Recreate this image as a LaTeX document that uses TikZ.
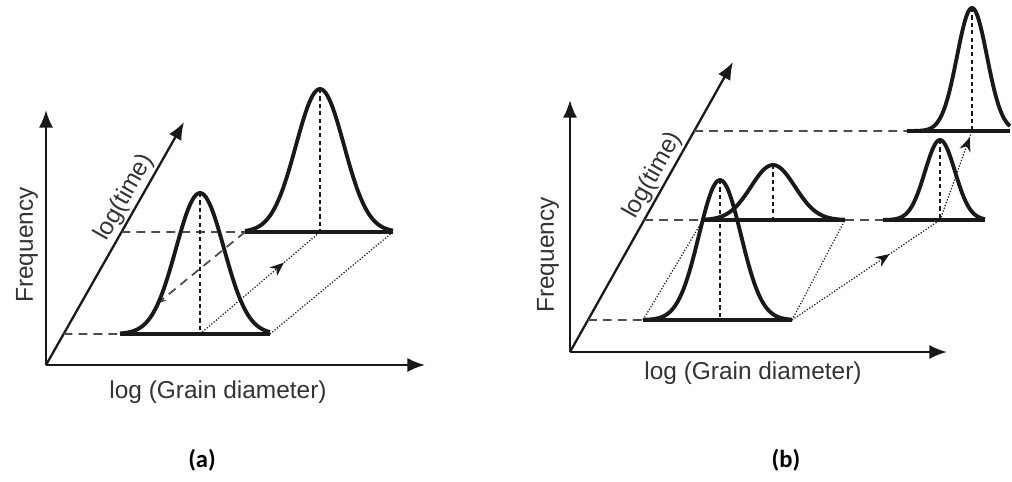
\documentclass[tikz,border=0pt]{standalone}
\usepackage{fontspec}
\setmainfont{Liberation Sans}
\newfontfamily\capfont{Carlito}
\usetikzlibrary{arrows.meta, positioning, calc, decorations.markings}
\definecolor{InkBlack}{rgb}{0.1, 0.1, 0.1}
\definecolor{GuideGray}{rgb}{0.3, 0.3, 0.3}
\definecolor{LabelGray}{rgb}{0.2, 0.2, 0.2}

\begin{document}
\begin{tikzpicture}[
    x=0.02cm, y=-0.02cm,
    font=\fontsize{13.9}{16}\selectfont,
    axis/.style={line width=1.3pt, InkBlack, -{Latex[length=10pt, width=8pt]}},
    bell/.style={line width=2.2pt, InkBlack, smooth, samples=90},
    base/.style={line width=2.4pt, InkBlack},
    guide/.style={GuideGray, line width=1pt, dash pattern=on 5pt off 3.5pt},
    peakline/.style={InkBlack, line width=1.6pt, dash pattern=on 2.4pt off 1.8pt},
    trace/.style={InkBlack, line width=0.7pt, densely dotted},
    midarrow/.style={postaction={decorate}, decoration={markings,
        mark=at position #1 with {\arrow{Stealth[length=8pt, width=6.5pt]}}}},
    axlabel/.style={text=LabelGray},
    panel/.style={font=\capfont\bfseries\fontsize{14}{16}\selectfont},
]
\useasboundingbox (0,0) rectangle (1012,481);

% ---- ejes ----
\coordinate (Oa) at (46,365);
\coordinate (fa) at (46,110);
\coordinate (ga) at (425,365);
\coordinate (ta) at (184,122);
\coordinate (Ob) at (570,352);
\coordinate (fb) at (570,100);
\coordinate (gb) at (947,352);
\coordinate (tb) at (733,62);

\foreach \p in {a,b}{
    \draw[axis] (O\p) -- (f\p);
    \draw[axis] (O\p) -- (g\p);
}
\draw[axis] (Oa) -- node[sloped, above, pos=0.66, inner sep=1pt, axlabel] (timea) {log(time)} (ta);
\draw[axis] (Ob) -- node[sloped, above, pos=0.585, inner sep=1pt, axlabel] (timeb) {log(time)} (tb);

% ---- distribuciones ----
\foreach \nm/\c/\b/\h/\s/\l/\r in {%
    a1/200/334/141/24/120/270,
    a2/320/232/143/24/245/393,
    b1/720/320/140/21/643/792,
    b2/773/220/55/22/703/845,
    b3/940/220/80/15/883/985,
    b4/972/131/123/15/907/1010}{
    \coordinate (\nm L) at (\l,\b);
    \coordinate (\nm C) at (\c,\b);
    \coordinate (\nm R) at (\r,\b);
    \coordinate (\nm P) at (\c,\b-\h);
}

% ---- guias ----
\draw[guide] (intersection of Oa--ta and a1L--a1R) -- (a1L);
\draw[guide] (intersection of Oa--ta and a2L--a2R) -- (a2L);
\draw[guide, -{Stealth[length=5pt, width=4pt]}] (a2L) -- ($(a2L)!0.7!(a1L)$);
\draw[guide] (intersection of Ob--tb and b1L--b1R) -- (b1L);
\draw[guide] (intersection of Ob--tb and b2L--b2R) -- (b2L);
\draw[guide] (b2R) -- (b3L);
\draw[guide] (intersection of Ob--tb and b4L--b4R) -- (b4L);

\draw[trace, midarrow=0.7] (a1C) -- (a2C);
\draw[trace] (a1R) -- (a2R);
\draw[trace] (b1L) -- (b2L);
\draw[trace] (b1R) -- (b2R);
\draw[trace, midarrow=0.66] (b1R) -- (b3C);
\draw[trace, midarrow=0.93] (b3C) -- (b4C);

\foreach \nm/\c/\b/\h/\s/\l/\r in {%
    a1/200/334/141/24/120/270,
    a2/320/232/143/24/245/393,
    b1/720/320/140/21/643/792,
    b2/773/220/55/22/703/845,
    b3/940/220/80/15/883/985,
    b4/972/131/123/15/907/1010}{
    \draw[peakline] (\nm P) -- (\nm C);
    \draw[bell, domain=\l:\r] plot (\x, {\b-\h*exp(-0.5*pow((\x-\c)/\s,2))});
    \draw[base] (\nm L) -- (\nm R);
}

% ---- textos ----
\node[rotate=90, axlabel] (freqa) at (27,245) {Frequency};
\node[rotate=90, axlabel] (freqb) at (548,255) {Frequency};
\node[axlabel] (graina) at (218,392) {log (Grain diameter)};
\node[axlabel] (grainb) at (753,373) {log (Grain diameter)};
\node[panel] (capa) at (202,460) {(a)};
\node[panel] (capb) at (786,460) {(b)};

\end{tikzpicture}
\end{document}
